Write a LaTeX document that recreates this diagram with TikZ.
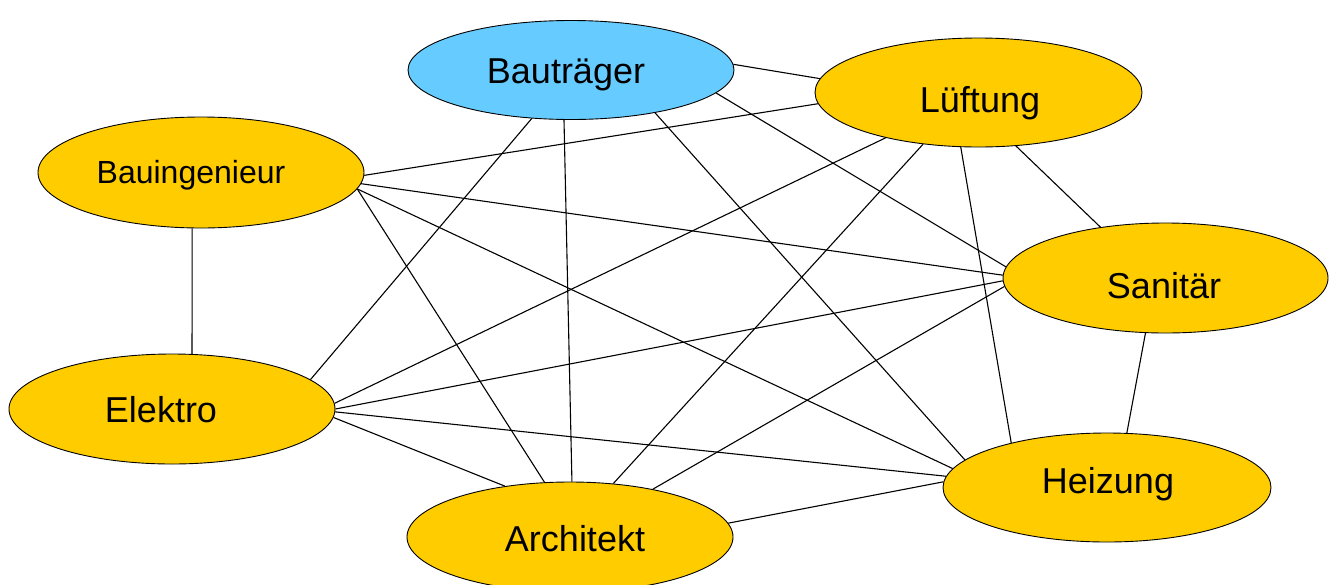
\documentclass[tikz,border=0pt]{standalone}
\usepackage{fontspec}
\setmainfont{Liberation Sans}
\usetikzlibrary{shapes.geometric}
\definecolor{gold}{HTML}{FFCC00}
\definecolor{sky}{HTML}{66CCFF}
\tikzset{
  party/.style={ellipse, draw=black, line width=0.9pt, fill=gold, inner sep=0pt, minimum width=326, minimum height=110},
  lbl/.style={anchor=base, inner sep=0pt, font=\fontsize{36}{43}\selectfont},
  link/.style={draw=black, line width=1.1pt}
}
\begin{document}
\begin{tikzpicture}[yscale=-1, x=1pt, y=1pt]
    \useasboundingbox (0,0) rectangle (1335,584);
    % the parties
    \node[party, fill=sky, minimum height=99] (bt) at (571,70) {};
    \node[party, minimum width=327, minimum height=109] (lu) at (978.5,92.5) {};
    \node[party, minimum height=111] (bi) at (201,172.5) {};
    \node[party, minimum width=325] (sa) at (1165.5,278) {};
    \node[party] (el) at (172,409) {};
    \node[party, minimum width=328, minimum height=109] (he) at (1107,487.5) {};
    \node[party] (ar) at (570,537) {};
    \node[lbl] (bt-t) at (566,83) {Bauträger};
    \node[lbl] (lu-t) at (980,112) {Lüftung};
    \node[lbl, font=\fontsize{32}{38}\selectfont] (bi-t) at (191,183) {Bauingenieur};
    \node[lbl] (sa-t) at (1164,298) {Sanitär};
    \node[lbl] (el-t) at (161,422) {Elektro};
    \node[lbl] (he-t) at (1108,493) {Heizung};
    \node[lbl] (ar-t) at (575,551) {Architekt};
    % everyone talks to everyone
    \foreach \a/\b in {bt.2/lu.175, bt.-9/sa.176, bt.-27/he.169, bt.262/ar.88, bt.231/el.12,
        lu.184/bi.-1, lu.206/el.2, lu.223/ar.51, lu.252/he.155, lu.-55/sa.142,
        bi.-4/sa.179, bi.-6/he.173, bi.-6/ar.115, bi.261/el.70,
        sa.181/el.0, sa.183/ar.30, sa.250/he.70,
        el.-1/he.176, el.-3/ar.142, ar.5/he.178}
      \draw[link] (\a) -- (\b);
\end{tikzpicture}
\end{document}
